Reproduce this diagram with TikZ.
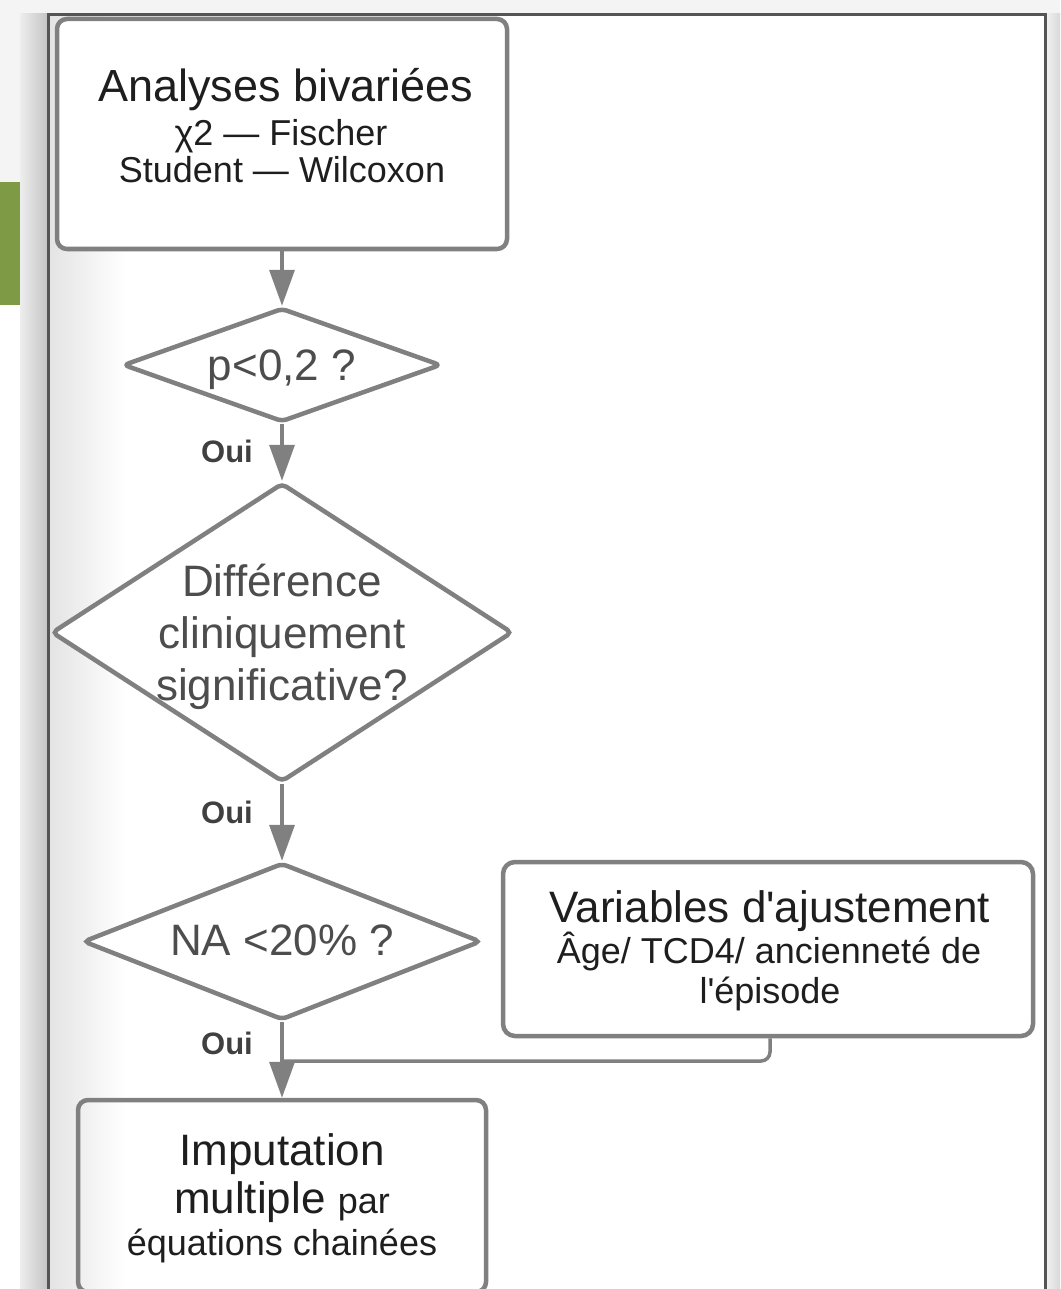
\documentclass[tikz,border=0pt]{standalone}
\usepackage{fontspec}
\setmainfont{Liberation Sans}
\usetikzlibrary{shapes.geometric,arrows.meta}
\definecolor{edgec}{HTML}{808080}
\definecolor{framec}{HTML}{555555}
\definecolor{leafgreen}{HTML}{7F9A44}
\definecolor{txtc}{HTML}{1E1E1E}
\definecolor{dtxtc}{HTML}{4D4D4D}
\definecolor{ouic}{HTML}{404040}
\definecolor{bgc}{HTML}{F4F4F4}
\definecolor{stripL}{HTML}{EDEDED}
\definecolor{stripR}{HTML}{C4C4C4}
\definecolor{rstripL}{HTML}{F0F0F0}
\definecolor{rstripR}{HTML}{D8D8D8}
\definecolor{shadowc}{HTML}{E4E4E4}
\begin{document}
\begin{tikzpicture}[x=1pt,y=-1pt,
  box/.style={draw=edgec, line width=4.5pt, rounded corners=10pt, fill=white, inner sep=0pt},
  dia/.style={draw=edgec, line width=4.5pt, diamond, rounded corners=5pt, fill=white, inner sep=0pt},
  arr/.style={draw=edgec, line width=3.5pt, -{Triangle[length=36pt,width=25pt]}},
  plain/.style={draw=edgec, line width=3.5pt},
  big/.style={font=\fontsize{44}{50}\selectfont, text=txtc, anchor=base, inner sep=0pt},
  small/.style={font=\fontsize{36}{40}\selectfont, text=txtc, anchor=base, inner sep=0pt},
  dbig/.style={big, text=dtxtc},
  ouilab/.style={font=\fontsize{31}{36}\selectfont\bfseries, text=ouic, inner sep=0pt},
]
\useasboundingbox (0,0) rectangle (1060,1289);
\clip (0,0) rectangle (1060,1289);
% background and page decoration
\fill[bgc] (0,0) rectangle (1060,1289);
\shade[left color=stripL, right color=stripR] (20,14) rectangle (48,1289);
\fill[white] (0,305) rectangle (20,1289);
\fill[leafgreen] (0,182) rectangle (20,305);
\shade[left color=rstripL, right color=rstripR] (1047,14) rectangle (1060,1289);
\fill[white] (48.5,15) rectangle (1045.5,1300);
\shade[left color=shadowc, right color=white] (50,17) rectangle (125,1289);
\draw[framec, line width=3pt] (48.5,1300) -- (48.5,15) -- (1045.5,15) -- (1045.5,1300);

% flow nodes
\node[box, minimum width=450pt, minimum height=230pt] (b1) at (282,134) {};
\node[big, font=\fontsize{45}{50}\selectfont] (b1t1) at (286,102) {Analyses bivariées};
\node[small] (b1t2) at (281,146) {χ2 — Fischer};
\node[small] (b1t3) at (282,183) {Student — Wilcoxon};

\node[dia, minimum width=318pt, minimum height=114pt] (d1) at (282,365) {};
\node[dbig] (d1t) at (282,380) {p<0,2 ?};

\node[dia, minimum width=461pt, minimum height=299pt] (d2) at (282,632.5) {};
\node[dbig] (d2t1) at (282,596) {Différence};
\node[dbig] (d2t2) at (282,648) {cliniquement};
\node[dbig] (d2t3) at (282,700) {significative?};

\node[dia, minimum width=398pt, minimum height=157pt] (d3) at (282,941.5) {};
\node[dbig] (d3t) at (282,955) {NA <20\% ?};

\node[box, rounded corners=12pt, minimum width=530pt, minimum height=174pt] (v) at (768,949) {};
\node[big] (vt1) at (770,922) {Variables d\textquotesingle ajustement};
\node[small] (vt2) at (769,963) {Âge/ TCD4/ ancienneté de};
\node[small] (vt3) at (770,1003) {l\textquotesingle épisode};

\node[box, fill=none, minimum width=408pt, minimum height=192pt] (b4) at (282,1196) {};
\node[big] (b4t1) at (282,1165) {Imputation};
\node[big] (b4t2) at (282,1213) {multiple {\fontsize{36}{40}\selectfont par}};
\node[small] (b4t3) at (282,1255) {équations chainées};

% connectors
\draw[arr] (b1.south) -- (d1.north);
\draw[arr] (d1.south) -- (d2.north);
\draw[arr] (d2.south) -- (d3.north);
\draw[arr] (d3.south) -- (b4.north);
\coordinate (j) at (282,1061);
\draw[plain, rounded corners=9pt] ([xshift=2pt]v.south) |- (j);

% labels
\node[ouilab] (o1) at (227,451) {Oui};
\node[ouilab] (o2) at (227,812) {Oui};
\node[ouilab] (o3) at (227,1043) {Oui};
\end{tikzpicture}
\end{document}
